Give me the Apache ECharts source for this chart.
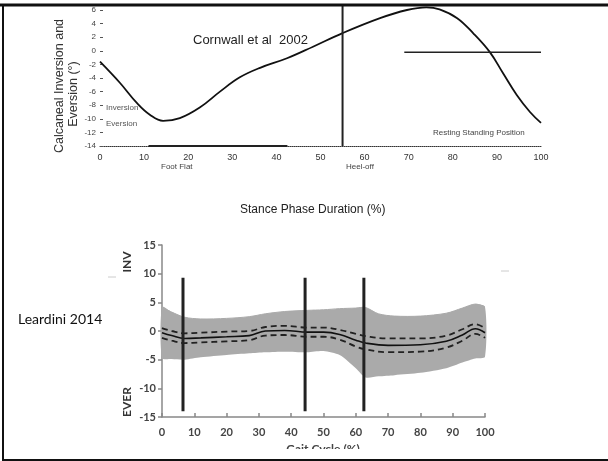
<!DOCTYPE html>
<html>
<head>
<meta charset="utf-8">
<script src="https://cdn.jsdelivr.net/npm/echarts@6/dist/echarts.min.js"></script>
<style>
  html, body { margin: 0; padding: 0; background: #fff; }
  #chart { width: 608px; height: 461px; }
</style>
</head>
<body>
<div id="chart"></div>
<script>
// --- Cornwall et al 2002 (top panel) ---
var cornwallX = [0, 4.5, 8.4, 11.3, 14.3, 18.1, 22.7, 27.2, 31.7, 36.3, 42.4, 48.3, 55, 63.5, 69.6, 74, 77, 81, 84.6, 88.4, 91.4, 94.5, 97.5, 100];
var cornwallY = [-1.6, -4.7, -7.7, -9.4, -10.3, -9.9, -8.3, -6.0, -3.9, -2.5, -1.1, 0.6, 2.6, 4.8, 6.0, 6.4, 6.1, 4.8, 2.6, -0.2, -3.3, -6.5, -9.0, -10.6];
var footFlat = [[11, -14], [42.5, -14]];
var restingPos = [[69, -0.2], [100, -0.2]];
var heelOff = [[55, -14], [55, 6.8]];
var topYTicks = [6, 4, 2, 0, -2, -4, -6, -8, -10, -12, -14];

// --- Leardini 2014 (bottom panel) ---
var gaitX = [0, 3, 7, 12, 20, 27, 32, 38, 45, 50, 55, 60, 63, 70, 80, 88, 93, 97, 100];
var meanY = [-0.3, -0.8, -1.3, -1.2, -1.0, -0.8, 0.0, 0.1, -0.2, -0.2, -0.6, -1.6, -2.1, -2.5, -2.4, -1.8, -0.7, 0.4, -0.3];
var upperY = [0.5, 0.0, -0.4, -0.3, -0.1, 0.0, 0.7, 0.9, 0.6, 0.6, 0.2, -0.5, -0.9, -1.3, -1.3, -0.8, 0.3, 1.2, 0.5];
var lowerY = [-1.2, -1.7, -2.1, -2.0, -1.8, -1.6, -0.8, -0.7, -1.0, -1.0, -1.5, -2.7, -3.2, -3.7, -3.6, -2.9, -1.7, -0.5, -1.2];
var bandX = [0, 3, 7, 12, 20, 27, 32, 38, 45, 50, 55, 60, 63, 67, 72, 80, 88, 93, 97, 100];
var bandTop = [4.2, 3.3, 2.4, 2.1, 2.2, 2.5, 3.0, 3.4, 3.6, 3.7, 3.9, 4.0, 4.1, 3.0, 2.6, 2.6, 3.1, 4.0, 4.7, 4.2];
var bandBottom = [-4.7, -4.9, -5.0, -4.6, -4.2, -3.9, -3.7, -3.6, -3.7, -3.5, -4.2, -6.5, -8.1, -7.9, -7.7, -7.3, -6.5, -5.5, -4.8, -4.5];
var eventX = [6.5, 44.3, 62.5];
var eventRange = [-14, 9.3];

function pairs(xs, ys) {
  return xs.map(function (x, i) { return [x, ys[i]]; });
}

var eventSeries = eventX.map(function (x) {
  return {
    type: 'line', xAxisIndex: 1, yAxisIndex: 1, symbol: 'none', z: 5,
    lineStyle: { color: '#222', width: 3 },
    data: [[x, eventRange[0]], [x, eventRange[1]]]
  };
});

// SD band: upper edge forward, lower edge back, both smoothed
var bandSeries = {
  type: 'custom', xAxisIndex: 1, yAxisIndex: 1, z: 1,
  data: [0],
  renderItem: function (params, api) {
    var up = bandX.map(function (x, i) { return api.coord([x, bandTop[i]]); });
    var low = bandX.map(function (x, i) { return api.coord([x, bandBottom[i]]); }).reverse();
    return {
      type: 'group',
      children: [
        { type: 'polyline', shape: { points: up, smooth: 0.3 }, style: { stroke: '#aaaaaa', lineWidth: 1, fill: null } },
        { type: 'polygon', shape: { points: up.concat(low), smooth: 0.25 }, style: { fill: '#aaaaaa' } }
      ]
    };
  }
};

var chart = echarts.init(document.getElementById('chart'));
var topFont = 'Liberation Sans, Arial, sans-serif';
var botFont = 'Lato, Noto Sans, sans-serif';

chart.setOption({
  animation: false,
  backgroundColor: '#fff',
  grid: [
    { left: 100, right: 67, top: 10, bottom: 315 },
    { left: 162, right: 123, top: 245, bottom: 44 }
  ],
  xAxis: [
    {
      gridIndex: 0, type: 'value', min: 0, max: 100, interval: 10,
      axisLine: { onZero: false, lineStyle: { color: '#333', type: 'dotted', width: 1 } },
      axisTick: { show: false },
      splitLine: { show: false },
      axisLabel: { fontFamily: topFont, fontSize: 9, color: '#333', margin: 7 }
    },
    {
      gridIndex: 1, type: 'value', min: 0, max: 100, interval: 10,
      axisLine: { onZero: false, lineStyle: { color: '#888', width: 1.5 } },
      axisTick: { inside: true, length: 4, lineStyle: { color: '#888', width: 1.5 } },
      splitLine: { show: false },
      axisLabel: { fontFamily: botFont, fontSize: 11, fontWeight: 'bold', color: '#444', margin: 10 }
    }
  ],
  yAxis: [
    {
      gridIndex: 0, type: 'value', min: -14, max: 6, interval: 2,
      axisLine: { show: false },
      axisTick: { show: true, inside: true, length: 3, lineStyle: { color: '#555' } },
      splitLine: { show: false },
      axisLabel: {
        fontFamily: topFont, fontSize: 8, color: '#444', margin: 4,
        formatter: function (v) { return topYTicks.indexOf(v) >= 0 ? String(v) : ''; }
      }
    },
    {
      gridIndex: 1, type: 'value', min: -15, max: 15, interval: 5,
      axisLine: { show: true, lineStyle: { color: '#888', width: 1.5 } },
      axisTick: { show: true, length: 4, lineStyle: { color: '#888', width: 1.5 } },
      splitLine: { show: false },
      axisLabel: { fontFamily: botFont, fontSize: 11, fontWeight: 'bold', color: '#444', margin: 6 }
    }
  ],
  series: [
    {
      type: 'line', xAxisIndex: 0, yAxisIndex: 0, smooth: 0.4, symbol: 'none', clip: false,
      lineStyle: { color: '#111', width: 1.8 },
      data: pairs(cornwallX, cornwallY)
    },
    {
      type: 'line', xAxisIndex: 0, yAxisIndex: 0, symbol: 'none', clip: false,
      lineStyle: { color: '#222', width: 2 }, data: footFlat
    },
    {
      type: 'line', xAxisIndex: 0, yAxisIndex: 0, symbol: 'none', clip: false,
      lineStyle: { color: '#222', width: 1.5 }, data: restingPos
    },
    {
      type: 'line', xAxisIndex: 0, yAxisIndex: 0, symbol: 'none', clip: false,
      lineStyle: { color: '#222', width: 2 }, data: heelOff
    },
    bandSeries,
    {
      type: 'line', xAxisIndex: 1, yAxisIndex: 1, symbol: 'none', smooth: 0.4,
      lineStyle: { color: '#222', width: 1.8, type: [6, 4] },
      data: pairs(gaitX, upperY)
    },
    {
      type: 'line', xAxisIndex: 1, yAxisIndex: 1, symbol: 'none', smooth: 0.4,
      lineStyle: { color: '#222', width: 1.8, type: [6, 4] },
      data: pairs(gaitX, lowerY)
    },
    {
      type: 'line', xAxisIndex: 1, yAxisIndex: 1, symbol: 'none', smooth: 0.4,
      lineStyle: { color: '#111', width: 1.6 },
      data: pairs(gaitX, meanY)
    }
  ].concat(eventSeries),
  graphic: [
    { type: 'text', left: 193, top: 34, style: { text: 'Cornwall et al  2002', font: '13px ' + topFont, fill: '#222' } },
    { type: 'text', x: 60, y: 86, rotation: Math.PI / 2, style: { text: 'Calcaneal Inversion and', font: '12.5px ' + topFont, fill: '#333', align: 'center', verticalAlign: 'middle' } },
    { type: 'text', x: 74, y: 94, rotation: Math.PI / 2, style: { text: 'Eversion (°)', font: '12.5px ' + topFont, fill: '#333', align: 'center', verticalAlign: 'middle' } },
    { type: 'text', left: 106, top: 104, style: { text: 'Inversion', font: '8px ' + topFont, fill: '#555' } },
    { type: 'text', left: 106, top: 120, style: { text: 'Eversion', font: '8px ' + topFont, fill: '#555' } },
    { type: 'text', left: 161, top: 163, style: { text: 'Foot Flat', font: '8px ' + topFont, fill: '#444' } },
    { type: 'text', left: 346, top: 163, style: { text: 'Heel-off', font: '8px ' + topFont, fill: '#444' } },
    { type: 'text', left: 433, top: 129, style: { text: 'Resting Standing Position', font: '8px ' + topFont, fill: '#444' } },
    { type: 'text', left: 240, top: 204, style: { text: 'Stance Phase Duration (%)', font: '12px ' + topFont, fill: '#222' } },
    { type: 'text', left: 18, top: 312, style: { text: 'Leardini 2014', font: '14px ' + botFont, fill: '#111' } },
    { type: 'text', x: 127, y: 262, rotation: Math.PI / 2, style: { text: 'INV', font: 'bold 12px ' + botFont, fill: '#333', align: 'center', verticalAlign: 'middle' } },
    { type: 'text', x: 127, y: 402, rotation: Math.PI / 2, style: { text: 'EVER', font: 'bold 12px ' + botFont, fill: '#333', align: 'center', verticalAlign: 'middle' } },
    { type: 'text', x: 323, y: 443, style: { text: 'Gait Cycle (%)', font: 'bold 12px ' + botFont, fill: '#444', align: 'center', verticalAlign: 'top' } },
    { type: 'rect', shape: { x: 5, y: 449, width: 603, height: 10 }, style: { fill: '#fff' }, z: 100 },
    { type: 'line', shape: { x1: 108, y1: 277, x2: 116, y2: 277 }, style: { stroke: '#ccc', lineWidth: 1 } },
    { type: 'line', shape: { x1: 501, y1: 271, x2: 509, y2: 271 }, style: { stroke: '#ccc', lineWidth: 1 } },
    { type: 'line', shape: { x1: 0, y1: 5, x2: 608, y2: 5 }, style: { stroke: '#111', lineWidth: 3 }, z: 101 },
    { type: 'line', shape: { x1: 3, y1: 4, x2: 3, y2: 460 }, style: { stroke: '#111', lineWidth: 2 }, z: 101 },
    { type: 'line', shape: { x1: 2, y1: 460, x2: 608, y2: 460 }, style: { stroke: '#111', lineWidth: 2 }, z: 101 }
  ]
});
</script>
</body>
</html>
